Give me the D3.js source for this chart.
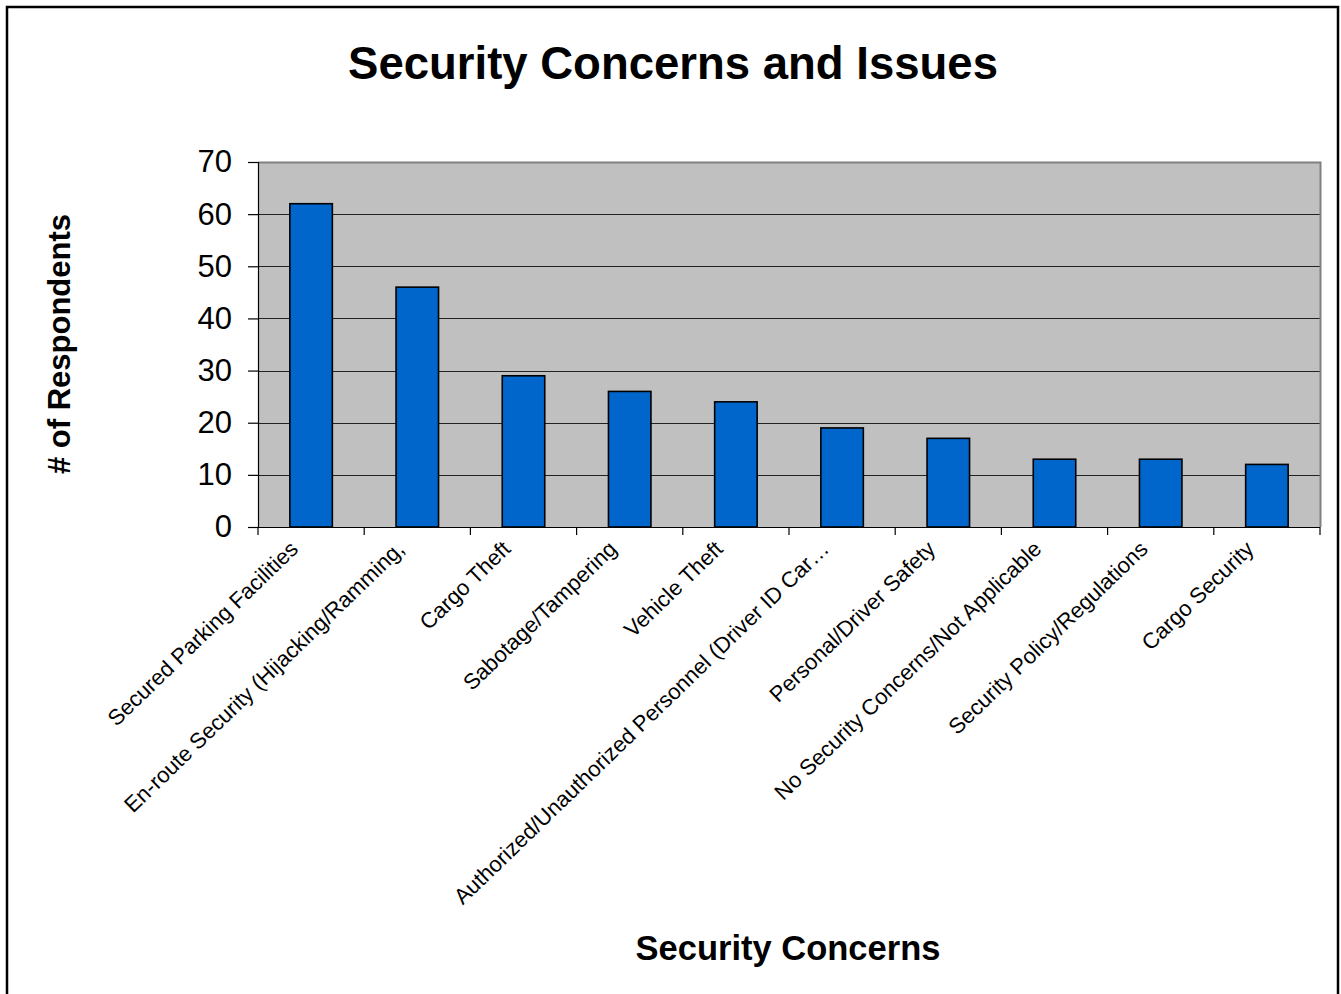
<!DOCTYPE html>
<html>
<head>
<meta charset="utf-8">
<script src="https://cdn.jsdelivr.net/npm/d3@7"></script>
<style>
  html, body { margin: 0; padding: 0; background: #fff; }
  svg { display: block; }
  text { font-family: Arial, "Liberation Sans", sans-serif; fill: #000; }
</style>
</head>
<body>
<svg id="chart" width="1341" height="994"></svg>
<script>
const categories = [
  "Secured Parking Facilities",
  "En-route Security (Hijacking/Ramming,",
  "Cargo Theft",
  "Sabotage/Tampering",
  "Vehicle Theft",
  "Authorized/Unauthorized Personnel (Driver ID Car…",
  "Personal/Driver Safety",
  "No Security Concerns/Not Applicable",
  "Security Policy/Regulations",
  "Cargo Security"
];
const values = [62, 46, 29, 26, 24, 19, 17, 13, 13, 12];
const yTicks = [0, 10, 20, 30, 40, 50, 60, 70];
const chartTitle = "Security Concerns and Issues";
const xTitle = "Security Concerns";
const yTitle = "# of Respondents";

const svg = d3.select("#chart");

// outer frame
svg.append("rect").attr("x", 7).attr("y", 7).attr("width", 1331).attr("height", 1000)
  .attr("fill", "#fff").attr("stroke", "#000").attr("stroke-width", 2.5);

const plot = { left: 258, top: 162, right: 1320, bottom: 527 };

const x = d3.scaleBand().domain(categories).range([plot.left, plot.right]).paddingInner(0).paddingOuter(0);
const y = d3.scaleLinear().domain([0, 70]).range([plot.bottom, plot.top]);

// plot background
svg.append("rect").attr("x", plot.left).attr("y", plot.top)
  .attr("width", plot.right - plot.left).attr("height", plot.bottom - plot.top)
  .attr("fill", "#C0C0C0");

// gridlines
svg.append("g").selectAll("line").data(yTicks.filter(d => d > 0 && d < 70)).join("line")
  .attr("x1", plot.left).attr("x2", plot.right)
  .attr("y1", d => Math.round(y(d)) + 0.5).attr("y2", d => Math.round(y(d)) + 0.5)
  .attr("stroke", "#222").attr("stroke-width", 1);

// plot border top/right
svg.append("path")
  .attr("d", `M${plot.left},${plot.top + 0.5}H${plot.right + 0.5}V${plot.bottom}`)
  .attr("fill", "none").attr("stroke", "#808080").attr("stroke-width", 2);

// bars
const bw = x.bandwidth() / 2.5;
svg.append("g").selectAll("rect").data(values).join("rect")
  .attr("x", (d, i) => x(categories[i]) + (x.bandwidth() - bw) / 2)
  .attr("y", d => y(d))
  .attr("width", bw)
  .attr("height", d => y(0) - y(d))
  .attr("fill", "#0066CC")
  .attr("stroke", "#000").attr("stroke-width", 1.6);

// y axis
const yAxis = d3.axisLeft(y).tickValues(yTicks).tickSize(10).tickPadding(16);
const gy = svg.append("g").attr("transform", `translate(${plot.left},0)`).call(yAxis);
gy.select(".domain").attr("stroke", "#000").attr("stroke-width", 1.2);
gy.selectAll(".tick line").attr("stroke", "#000").attr("stroke-width", 1.2);
gy.selectAll(".tick text").attr("font-size", 31).attr("font-family", "Arial, 'Liberation Sans', sans-serif").attr("fill", "#000");

// x axis line and ticks at category boundaries
const boundaries = categories.map(c => x(c)).concat([plot.right]);
svg.append("line").attr("x1", plot.left).attr("x2", plot.right)
  .attr("y1", plot.bottom + 0.5).attr("y2", plot.bottom + 0.5)
  .attr("stroke", "#000").attr("stroke-width", 1.2);
svg.append("g").selectAll("line").data(boundaries).join("line")
  .attr("x1", d => d).attr("x2", d => d)
  .attr("y1", plot.bottom).attr("y2", plot.bottom + 8)
  .attr("stroke", "#000").attr("stroke-width", 1.2);

// category labels
svg.append("g").selectAll("text").data(categories).join("text")
  .attr("transform", d => `translate(${x(d) + x.bandwidth() / 2 - 17},${plot.bottom + 18}) rotate(-44)`)
  .attr("text-anchor", "end")
  .attr("dy", "0.35em")
  .attr("font-size", 22)
  .text(d => d);

// titles
svg.append("text").attr("x", 673).attr("y", 79).attr("text-anchor", "middle")
  .attr("font-size", 45.5).attr("font-weight", "bold").text(chartTitle);

svg.append("text").attr("x", 788).attr("y", 960).attr("text-anchor", "middle")
  .attr("font-size", 34.5).attr("font-weight", "bold").text(xTitle);

svg.append("text").attr("transform", "translate(70,344) rotate(-90)").attr("text-anchor", "middle")
  .attr("font-size", 31).attr("font-weight", "bold").text(yTitle);
</script>
</body>
</html>
